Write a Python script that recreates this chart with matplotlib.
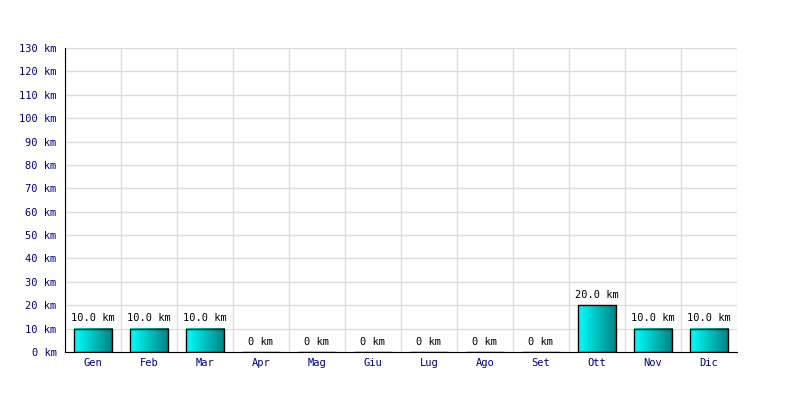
import numpy as np
import matplotlib
matplotlib.use("Agg")
import matplotlib.pyplot as plt

months = ["Gen", "Feb", "Mar", "Apr", "Mag", "Giu", "Lug", "Ago", "Set", "Ott", "Nov", "Dic"]
km = [10.0, 10.0, 10.0, 0, 0, 0, 0, 0, 0, 20.0, 10.0, 10.0]
yticks = list(range(0, 131, 10))

plt.rcParams['font.family'] = ['DejaVu Sans Mono']

fig = plt.figure(figsize=(8, 4), dpi=100)
ax = fig.add_axes([0.08125, 0.12, 0.84, 0.76])

x = np.arange(len(months))
ax.set_xlim(-0.5, len(months) - 0.5)
ax.set_ylim(0, 130)

# grid: vertical lines at category borders, horizontal at ticks
for b in np.arange(-0.5, len(months), 1.0):
    ax.axvline(b, color="#dddddd", lw=1, zorder=0)
for t in yticks:
    ax.axhline(t, color="#dddddd", lw=1, zorder=0)

grad = np.linspace(0, 1, 256).reshape(1, -1)
cmap = matplotlib.colors.LinearSegmentedColormap.from_list("cy", ["#00ffff", "#008080"])

bars = ax.bar(x, km, width=0.68, facecolor="none", edgecolor="black", lw=1, zorder=3)
for bar, v in zip(bars, km):
    if v > 0:
        x0 = bar.get_x()
        ax.imshow(grad, cmap=cmap, aspect="auto", extent=(x0, x0 + bar.get_width(), 0, v),
                  zorder=2, interpolation="bilinear")
        lab = f"{v:.1f} km"
    else:
        lab = "0 km"
    ax.text(bar.get_x() + bar.get_width() / 2, v + 2.2, lab, ha="center", va="bottom",
            fontsize=7.5, color="black")

ax.set_xlim(-0.5, len(months) - 0.5)
ax.set_ylim(0, 130)
ax.set_xticks(x)
ax.set_xticklabels(months)
ax.set_yticks(yticks)
ax.set_yticklabels([f"{t} km" for t in yticks])
ax.tick_params(axis="both", length=0, labelsize=7.5, labelcolor="#000080")
ax.tick_params(axis="x", pad=4)
ax.tick_params(axis="y", pad=6)

for s in ["top", "right"]:
    ax.spines[s].set_visible(False)
ax.spines["left"].set_color("black")
ax.spines["bottom"].set_color("black")
ax.spines["left"].set_zorder(4)
ax.spines["bottom"].set_zorder(4)

fig.savefig("out.png", dpi=100)
